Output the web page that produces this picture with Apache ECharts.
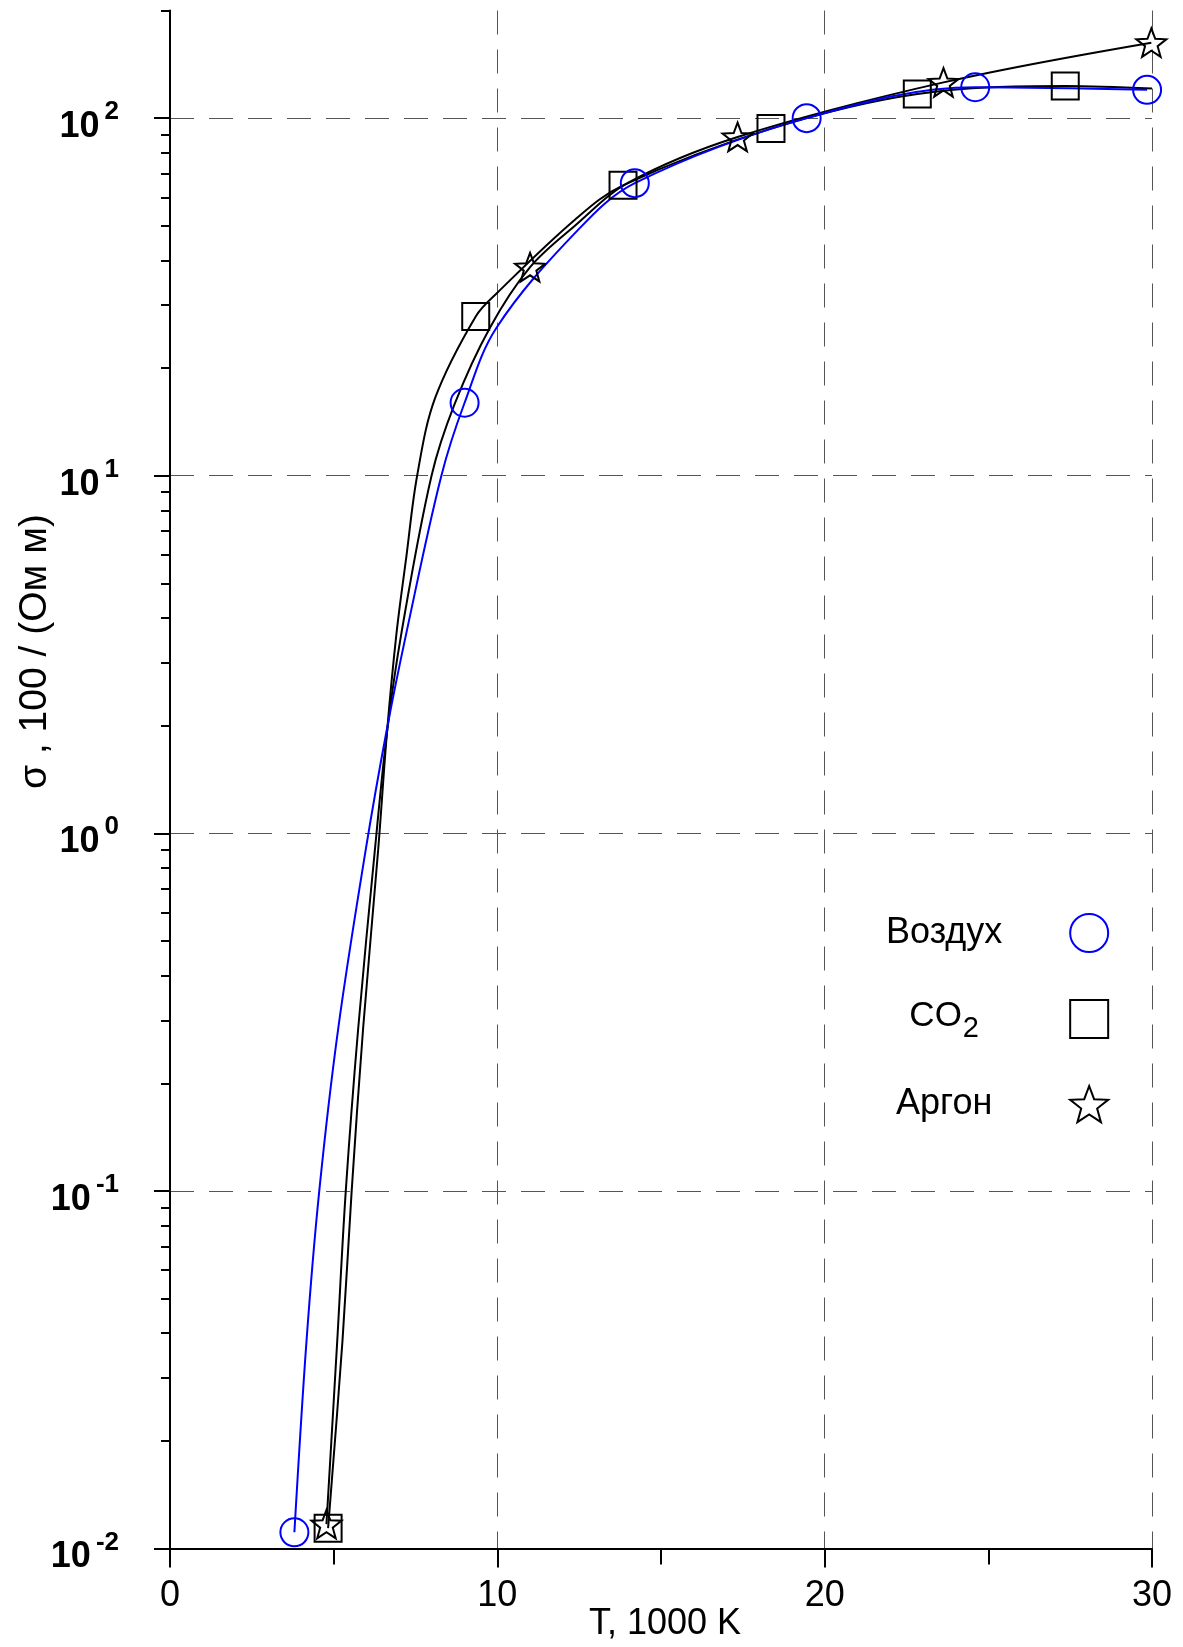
<!DOCTYPE html>
<html>
<head>
<meta charset="utf-8">
<script src="https://cdn.jsdelivr.net/npm/echarts@6/dist/echarts.min.js"></script>
<style>
  html, body { margin: 0; padding: 0; background: #fff; }
  #chart { width: 1183px; height: 1647px; }
</style>
</head>
<body>
<div id="chart"></div>
<script>
// Воздух: points with markers + points
const airMarkT = [3.8, 9.0, 14.2, 19.45, 24.6, 29.85];
const airMarkS = [0.0111, 16.0, 65.8, 100, 122, 120];
const airCurveT = [4.17, 4.56, 5.14, 5.98, 6.61, 7.22, 8.29, 9.97, 12.4];
const airCurveS = [0.038, 0.1, 0.285, 0.9, 1.92, 3.63, 10, 25.9, 48];

// CO2
const co2MarkT = [4.83, 9.34, 13.84, 18.36, 22.83, 27.35];
const co2MarkS = [0.0114, 27.9, 64.9, 93.5, 116.8, 123];
const co2CurveT = [5.27, 5.55, 5.9, 6.36, 6.63, 6.92, 7.22, 7.55, 8.1, 10, 12.37, 30];
const co2CurveS = [0.0382, 0.1, 0.285, 0.9, 1.92, 3.63, 5.93, 10, 16.5, 32.5, 52, 121];

// Аргон
const arMarkT = [4.78, 11.0, 17.34, 23.63, 29.98];
const arMarkS = [0.0117, 38.3, 88.6, 125.9, 162.6];
const arCurveT = [5.11, 5.37, 5.75, 6.26, 6.63, 7.07, 7.99, 8.7, 9.77, 12.37, 14.0];
const arCurveS = [0.0382, 0.1, 0.285, 0.9, 1.92, 3.63, 10, 15.9, 25.9, 50, 66];

const xTicks = [0, 10, 20, 30];
const yDecades = [-2, -1, 0, 1, 2];
const Y_MIN = 0.01;
const Y_MAX = 200;

const FONT = 'Liberation Sans, Arial, sans-serif';

// минорные деления логарифмической оси (2..9 в каждой декаде)
const yMinor = [];
yDecades.forEach(n => {
  for (let k = 2; k <= 9; k++) {
    const v = Math.log10(k) + n;
    if (v <= Math.log10(Y_MAX) + 1e-9) yMinor.push(v);
  }
});

function starPath() {
  let d = '';
  for (let i = 0; i < 10; i++) {
    const r = i % 2 ? 0.42 : 1;
    const a = -Math.PI / 2 + i * Math.PI / 5;
    d += (i ? 'L' : 'M') + (r * Math.cos(a)).toFixed(3) + ' ' + (r * Math.sin(a)).toFixed(3);
  }
  return 'path://' + d + 'Z';
}
const STAR = starPath();

function buildData(markT, markS, curveT, curveS) {
  const pts = [];
  markT.forEach((t, i) => pts.push({ value: [t, markS[i]] }));
  curveT.forEach((t, i) => pts.push({ value: [t, curveS[i]], symbol: 'none' }));
  pts.sort((a, b) => a.value[0] - b.value[0]);
  return pts;
}

function gasSeries(name, color, symbol, size, data) {
  return {
    name: name,
    type: 'line',
    xAxisIndex: 0,
    yAxisIndex: 0,
    smooth: 0.35,
    showAllSymbol: true,
    symbol: symbol,
    symbolSize: size,
    symbolKeepAspect: true,
    lineStyle: { color: color, width: 2 },
    itemStyle: { color: 'transparent', borderColor: color, borderWidth: 2 },
    emphasis: { disabled: true },
    data: data
  };
}

const chart = echarts.init(document.getElementById('chart'));
const option = {
  animation: false,
  backgroundColor: '#fff',
  grid: { left: 170, top: 10.5, width: 982, height: 1538, outerBoundsMode: 'none', containLabel: false },
  legend: {
    orient: 'vertical',
    align: 'right',
    left: 886,
    top: 913,
    padding: 0,
    itemWidth: 38,
    itemHeight: 38,
    itemGap: 42,
    selectedMode: false,
    data: [
      { name: 'Воздух', icon: 'circle', itemStyle: { color: 'transparent', borderColor: '#0000ff', borderWidth: 2 } },
      { name: 'CO2', icon: 'rect', itemStyle: { color: 'transparent', borderColor: '#000', borderWidth: 2 } },
      { name: 'Аргон', icon: STAR, itemStyle: { color: 'transparent', borderColor: '#000', borderWidth: 2 } }
    ],
    formatter: name => name === 'CO2' ? '{c|CO}{s|2}' : '{n|' + name + '}',
    textStyle: {
      width: 242,
      color: '#000',
      fontFamily: FONT,
      rich: {
        n: { fontSize: 36, fontFamily: FONT, color: '#000', align: 'center', lineHeight: 38 },
        c: { fontSize: 35, fontFamily: FONT, color: '#000', align: 'center', lineHeight: 38, padding: [0, 0, 6, 0] },
        s: { fontSize: 29, fontFamily: FONT, color: '#000', align: 'center', lineHeight: 30, padding: [19, 0, 0, 1] }
      }
    }
  },
  xAxis: {
    type: 'value',
    min: xTicks[0],
    max: xTicks[xTicks.length - 1],
    interval: 10,
    position: 'bottom',
    name: 'T, 1000 K',
    nameLocation: 'middle',
    nameGap: 58,
    nameMoveOverlap: false,
    nameTextStyle: { fontSize: 36, fontFamily: FONT, color: '#000', padding: [0, 0, 0, 8] },
    axisLine: { onZero: false, lineStyle: { color: '#000', width: 2 } },
    axisTick: { length: 19, lineStyle: { color: '#000', width: 2 } },
    minorTick: { show: true, splitNumber: 2, length: 16, lineStyle: { color: '#000', width: 2 } },
    axisLabel: { fontSize: 36, fontFamily: FONT, color: '#000', margin: 30 },
    splitLine: { show: true, lineStyle: { color: '#555', width: 1, type: [24, 15] } }
  },
  yAxis: [
    {
      type: 'log',
      logBase: 10,
      min: Y_MIN,
      max: Y_MAX,
      position: 'left',
      axisLine: { show: true, onZero: false, lineStyle: { color: '#000', width: 2 } },
      axisTick: { show: false },
      axisLabel: { show: false },
      splitLine: { show: false }
    },
    {
      type: 'value',
      min: yDecades[0],
      max: Math.log10(Y_MAX),
      position: 'left',
      name: 'σ , 100 / (Ом м)',
      nameLocation: 'middle',
      nameGap: 115,
      nameMoveOverlap: false,
      nameTextStyle: { fontSize: 39, fontFamily: FONT, color: '#000', padding: [0, 0, 0, 256] },
      axisLine: { show: false, onZero: false },
      axisTick: { show: true, customValues: yDecades, length: 16, lineStyle: { color: '#000', width: 2 } },
      axisLabel: {
        customValues: yDecades,
        margin: 51,
        formatter: v => '{b|10}{e|' + Math.round(v) + '}',
        rich: {
          b: { fontSize: 36, fontWeight: 'bold', fontFamily: FONT, color: '#000', lineHeight: 36, padding: [18, 0, 0, 0] },
          e: { fontSize: 26, fontWeight: 'bold', fontFamily: FONT, color: '#000', lineHeight: 26, padding: [0, 0, 12, 5] }
        }
      },
      splitLine: { show: true, lineStyle: { color: '#555', width: 1, type: [24, 15] } }
    },
    {
      type: 'value',
      min: yDecades[0],
      max: Math.log10(Y_MAX),
      position: 'left',
      axisLine: { show: false, onZero: false },
      axisTick: { show: true, customValues: yMinor, length: 9, lineStyle: { color: '#000', width: 2 } },
      axisLabel: { show: false },
      splitLine: { show: false }
    }
  ],
  series: [
    gasSeries('CO2', '#000', 'rect', 27, buildData(co2MarkT, co2MarkS, co2CurveT, co2CurveS)),
    gasSeries('Аргон', '#000', STAR, 30, buildData(arMarkT, arMarkS, arCurveT, arCurveS)),
    gasSeries('Воздух', '#0000ff', 'circle', 28, buildData(airMarkT, airMarkS, airCurveT, airCurveS))
  ]
};
chart.setOption(option);
</script>
</body>
</html>
